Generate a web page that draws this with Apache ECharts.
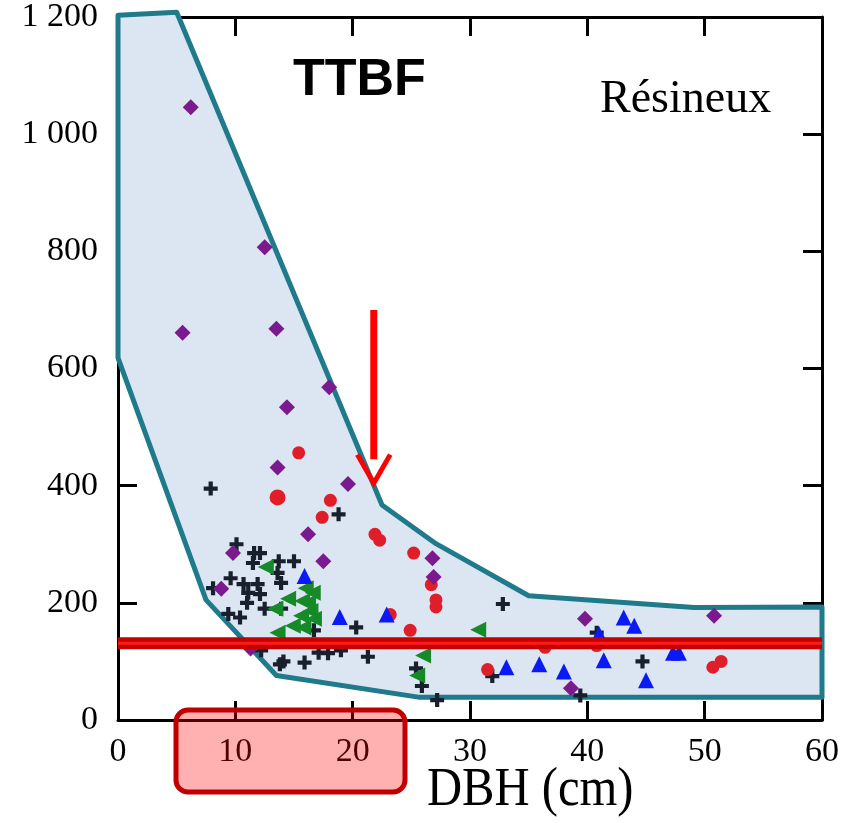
<!DOCTYPE html>
<html>
<head>
<meta charset="utf-8">
<script src="https://cdn.jsdelivr.net/npm/echarts@6/dist/echarts.min.js"></script>
<style>
  html, body { margin: 0; padding: 0; background: #fff; }
  #container { width: 850px; height: 823px; }
</style>
</head>
<body>
<div id="container"></div>
<script>
var dom = document.getElementById("container");
var myChart = echarts.init(dom);

// envelope polygon (DBH, value)
var envelopeX = [0, 5.0, 22.5, 27.1, 35.0, 49.1, 60, 60, 25.6, 13.5, 7.5, 0];
var envelopeY = [1203, 1208, 367, 301, 212, 192, 193, 39, 39, 76, 205, 618];

// purple diamonds
var diamondX = [6.2, 12.5, 5.5, 13.5, 18.0, 14.4, 13.6, 19.6, 16.2, 17.5, 9.8, 8.8, 26.8, 26.9, 39.8, 50.8, 38.6, 11.3];
var diamondY = [1046, 807, 661, 668, 568, 534, 431, 403, 317, 271, 285, 224, 276, 244, 173, 178, 54, 122];

// red circles
var circleX = [15.4, 13.6, 18.1, 17.4, 21.9, 22.3, 25.2, 26.7, 27.1, 27.1, 23.2, 24.9, 36.4, 40.8, 31.5, 50.7, 51.4];
var circleY = [456, 380, 375, 346, 317, 307, 285, 231, 205, 193, 180, 153, 124, 127, 86, 90, 100];

// blue triangles
var triUpX = [15.9, 18.9, 22.9, 33.1, 35.9, 38.0, 41.0, 41.4, 43.1, 44.0, 45.0, 47.3, 47.8];
var triUpY = [246, 176, 180, 90, 95, 83, 147, 102, 175, 161, 68, 115, 115];

// green left triangles
var triLeftX = [12.6, 16.0, 16.6, 14.5, 15.7, 13.4, 16.2, 15.6, 16.4, 16.7, 14.9, 13.6, 15.8, 30.7, 26.0, 25.5];
var triLeftY = [261, 225, 217, 207, 203, 190, 200, 178, 186, 173, 161, 149, 158, 154, 110, 76];

// black crosses
var crossX = [7.9, 18.8, 10.1, 11.6, 12.1, 11.5, 13.7, 15.0, 13.6, 13.9, 9.6, 10.7, 11.9, 8.1, 11.1, 12.1, 11.0, 12.5, 9.4, 10.4,
  16.7, 20.3, 12.2, 13.8, 14.1, 15.9, 17.1, 17.9, 19.0, 21.3, 25.4, 25.9, 27.2, 32.8, 31.9, 40.8, 44.7, 39.4, 13.9];
var crossY = [395, 351, 300, 285, 285, 268, 271, 271, 251, 234, 242, 232, 232, 225, 217, 215, 200, 190, 181, 175,
  153, 158, 119, 95, 100, 98, 115, 114, 119, 108, 88, 58, 34, 198, 75, 149, 100, 42, 190];

// threshold line and arrow
var thresholdX = [0, 60];
var thresholdY = [131, 131];
var arrowShaftX = [21.8, 21.8];
var arrowShaftY = [700, 445];
var arrowHeadX = [20.4, 21.8, 23.2];
var arrowHeadY = [453, 404, 453];

var xTicks = { min: 0, max: 60, interval: 10 };
var yTicks = { min: 0, max: 1200, interval: 200 };

function pairs(xs, ys) {
    return xs.map(function (x, i) { return [x, ys[i]]; });
}

var serif = '"Liberation Serif", "DejaVu Serif", serif';

var axisCommon = {
    type: 'value',
    axisLine: { show: true, onZero: false, lineStyle: { color: '#000', width: 3 } },
    axisTick: { show: true, inside: true, length: 19, lineStyle: { color: '#000', width: 3 } },
    splitLine: { show: false }
};

var option = {
    animation: false,
    grid: {
        left: 118,
        right: 28,
        top: 12,
        bottom: 103
    },
    xAxis: [
        Object.assign({}, axisCommon, {
            position: 'bottom',
            min: xTicks.min, max: xTicks.max, interval: xTicks.interval,
            axisLabel: { margin: 15, fontFamily: serif, fontSize: 34, color: '#000' }
        }),
        Object.assign({}, axisCommon, {
            position: 'top',
            min: xTicks.min, max: xTicks.max, interval: xTicks.interval,
            axisLabel: { show: false }
        })
    ],
    yAxis: [
        Object.assign({}, axisCommon, {
            position: 'left',
            min: yTicks.min, max: yTicks.max, interval: yTicks.interval,
            axisLabel: {
                margin: 20, fontFamily: serif, fontSize: 34, color: '#000',
                formatter: function (v) {
                    return v >= 1000 ? Math.floor(v / 1000) + ' ' + String(v % 1000).padStart(3, '0') : String(v);
                }
            }
        }),
        Object.assign({}, axisCommon, {
            position: 'right',
            min: yTicks.min, max: yTicks.max, interval: yTicks.interval,
            axisLabel: { show: false }
        })
    ],
    series: [
        {
            type: 'custom',
            data: pairs(envelopeX, envelopeY),
            z: 1,
            renderItem: function (params, api) {
                if (params.dataIndex !== 0) return;
                var pts = envelopeX.map(function (x, i) { return api.coord([x, envelopeY[i]]); });
                return {
                    type: 'polygon',
                    shape: { points: pts },
                    style: { fill: '#dce6f2', stroke: '#1f7a8c', lineWidth: 5, lineJoin: 'round' }
                };
            }
        },
        {
            type: 'scatter',
            z: 2,
            data: pairs(crossX, crossY),
            symbol: 'path://M3.5,0H6.5V3.5H10V6.5H6.5V10H3.5V6.5H0V3.5H3.5Z',
            symbolSize: 14,
            itemStyle: { color: '#18202e', opacity: 1 }
        },
        {
            type: 'scatter',
            z: 3,
            data: pairs(triLeftX, triLeftY),
            symbol: 'triangle',
            symbolRotate: 90,
            symbolSize: 16,
            itemStyle: { color: '#168a28', opacity: 1 }
        },
        {
            type: 'scatter',
            z: 4,
            data: pairs(circleX, circleY).map(function (p, i) {
                return i === 1 ? { value: p, symbolSize: 16 } : p;
            }),
            symbol: 'circle',
            symbolSize: 13,
            itemStyle: { color: '#e01e2a', opacity: 1 }
        },
        {
            type: 'scatter',
            z: 5,
            data: pairs(diamondX, diamondY),
            symbol: 'diamond',
            symbolSize: 16,
            itemStyle: { color: '#7a1a8e', opacity: 1 }
        },
        {
            type: 'scatter',
            z: 6,
            data: pairs(triUpX, triUpY),
            symbol: 'triangle',
            symbolSize: 16,
            itemStyle: { color: '#0a1af5', opacity: 1 }
        },
        {
            type: 'line',
            z: 7,
            data: pairs(thresholdX, thresholdY),
            symbol: 'none',
            lineStyle: { color: '#c40000', width: 12 }
        },
        {
            type: 'line',
            z: 8,
            data: pairs(thresholdX, thresholdY),
            symbol: 'none',
            lineStyle: { color: '#ff1a1a', width: 3 }
        },
        {
            type: 'line',
            z: 9,
            data: pairs(arrowShaftX, arrowShaftY),
            symbol: 'none',
            lineStyle: { color: '#ff0000', width: 7 }
        },
        {
            type: 'line',
            z: 9,
            data: pairs(arrowHeadX, arrowHeadY),
            symbol: 'none',
            lineStyle: { color: '#ff0000', width: 5, join: 'miter' }
        }
    ],
    graphic: {
        elements: [
            {
                type: 'text',
                left: 293,
                top: 55,
                z: 50,
                style: { text: 'TTBF', font: 'bold 52px "Liberation Sans", Arial, sans-serif', fill: '#000' }
            },
            {
                type: 'text',
                left: 600,
                top: 77,
                z: 50,
                style: { text: 'Résineux', font: '46px "Liberation Serif", serif', fill: '#000' }
            },
            {
                type: 'text',
                left: 427,
                top: 764,
                z: 50,
                scaleX: 0.9,
                style: { text: 'DBH (cm)', font: '54px "Liberation Serif", serif', fill: '#000' }
            },
            {
                type: 'rect',
                z: 100,
                shape: { x: 176, y: 710, width: 229, height: 82, r: 12 },
                style: { fill: 'rgba(255,0,0,0.31)', stroke: '#c00000', lineWidth: 5 }
            }
        ]
    }
};

myChart.setOption(option);
</script>
</body>
</html>
